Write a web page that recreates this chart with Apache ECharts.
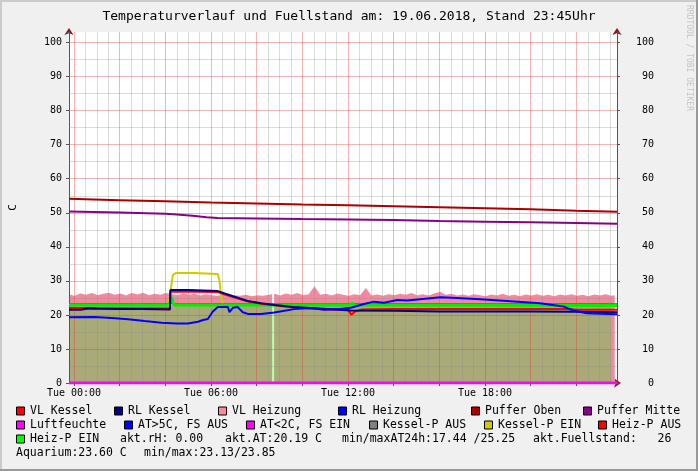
<!DOCTYPE html>
<html><head><meta charset="utf-8">
<script src="https://cdn.jsdelivr.net/npm/echarts@6/dist/echarts.min.js"></script>
<style>html,body{margin:0;padding:0;background:#f0f0f0}#c{width:698px;height:471px}</style>
</head><body><div id="c"></div>
<script>
const FONT = 'DejaVu Sans Mono';
const titleText = 'Temperaturverlauf und Fuellstand am: 19.06.2018, Stand 23:45Uhr';
const xMin = -0.22, xMax = 23.78;
const yMin = 0, yMax = 103.1;
const xTickHours = [0, 6, 12, 18];
const xTickLabels = ['Tue 00:00', 'Tue 06:00', 'Tue 12:00', 'Tue 18:00'];
const yTickValues = [0, 10, 20, 30, 40, 50, 60, 70, 80, 90, 100];

// VL Heizung (pink area), sampled every 0.25 h from -0.22 h
const pinkT0 = -0.22, pinkDT = 0.25;
const pinkVals = [26.0,25.6,26.3,25.9,26.4,25.8,26.2,26.5,25.9,26.3,25.7,26.4,26.0,26.5,25.8,26.2,
  25.9,26.4,26.1,25.8,26.3,25.9,26.2,25.7,26.1,25.8,25.6,25.9,25.5,25.8,25.6,25.9,25.5,25.8,25.6,25.9,
  26.2,25.7,26.3,25.9,26.4,25.8,26.1,28.4,25.9,26.2,25.7,26.3,25.9,25.6,26.1,25.8,27.9,25.7,26.0,25.6,
  26.1,25.8,26.2,25.9,26.4,25.8,26.1,25.7,26.3,26.8,25.9,26.2,25.7,26.0,25.6,26.1,25.8,25.5,26.0,25.7,
  26.2,25.6,25.9,25.5,26.0,25.7,26.1,25.6,25.9,25.5,26.0,25.7,26.1,25.6,25.9,25.5,26.0,25.7,26.1,25.6];
const pinkEnd = [23.68, 25.8];

// olive area
const oliveData = [[-0.22, 22.8], [23.51, 22.8]];
// Heiz-P EIN pale vertical mark and gap in pink
const paleGreenData = [[8.72, 0], [8.72, 22.9]];
const pinkGapData = [[8.72, 22.9], [8.72, 26.6]];
// thin grey-blue line
const thinLineData = [[-0.22, 23.35], [23.78, 23.3]];

const pufferOben = [[-0.22,54.1],[2,53.7],[4,53.35],[6,53.0],[8,52.75],[10,52.45],[12,52.2],[14,51.9],
  [16,51.6],[18,51.3],[20,51.0],[22,50.6],[23.78,50.3]];
const pufferMitte = [[-0.22,50.4],[2,50.1],[4,49.7],[4.5,49.5],[5.2,49.1],[5.8,48.7],[6.3,48.5],[8,48.35],
  [10,48.15],[12,48.0],[14,47.85],[16,47.6],[18,47.4],[20,47.2],[22,47.0],[23.78,46.8]];
const rlKessel = [[-0.22,21.5],[0.3,21.5],[0.6,21.9],[1.0,21.8],[2,21.7],[3,21.7],[4.2,21.6],[4.22,27.3],
  [5,27.3],[6,27.1],[6.3,27.0],[6.6,26.3],[7.0,25.4],[7.6,24.1],[8.2,23.4],[8.8,22.9],[9.6,22.3],
  [11.1,21.7],[12.1,21.3],[14,21.2],[16,21.0],[18,21.0],[20,21.0],[22,20.9],[23.78,20.8]];
const vlKessel = [[-0.22,22.0],[4.2,21.9],[4.22,26.9],[6.3,26.7],[6.6,26.0],[7.0,25.2],[7.6,24.0],[8.2,23.3],
  [8.8,22.8],[9.6,22.2],[11.1,21.6],[12.0,21.5],[12.15,20.0],[12.3,21.0],[12.6,21.6],[14,21.7],
  [18,21.7],[21.8,21.7],[22,21.5],[23.78,21.5]];
const rlHeizung = [[-0.22,19.3],[0.9,19.4],[1.65,19.1],[2.37,18.7],[3.09,18.2],[3.83,17.7],[4.5,17.5],
  [4.99,17.45],[5.43,18.0],[5.65,18.5],[5.86,18.8],[6.08,21.0],[6.30,22.3],[6.74,22.3],[6.81,20.8],
  [6.96,22.1],[7.17,22.3],[7.39,20.8],[7.61,20.3],[8.19,20.3],[8.77,20.7],[9.64,21.7],[10.37,22.0],
  [10.95,21.5],[11.54,21.7],[12.12,22.1],[12.70,23.2],[13.13,23.9],[13.57,23.6],[14.16,24.4],
  [14.59,24.2],[15.61,24.9],[16.05,25.2],[16.77,25.0],[17.79,24.6],[18.96,24.1],[20.41,23.4],
  [21.43,22.5],[21.86,21.3],[22.45,20.5],[23.78,20.2]];
const kesselPEin = [[4.15,23.4],[4.25,28.0],[4.33,31.8],[4.45,32.3],[5.3,32.3],[6.0,32.1],[6.3,32.0],
  [6.37,30.0],[6.45,25.0],[6.52,23.4]];
const heizPEin = [[-0.22,22.9],[4.15,22.9],[4.22,24.0],[4.27,25.2],[4.32,23.8],[4.4,22.9],[12.1,22.9],
  [12.18,23.5],[12.26,22.9],[23.78,22.8]];
const luftfeuchte = [[-0.22,0],[23.78,0]];

// legend layout
const legendRows = [
  {y: 411.5, items: [
    {name:'VL Kessel', color:'#ff0000', x:16},
    {name:'RL Kessel', color:'#000080', x:114},
    {name:'VL Heizung', color:'#ff8899', x:218},
    {name:'RL Heizung', color:'#0000ff', x:338},
    {name:'Puffer Oben', color:'#aa0000', x:471},
    {name:'Puffer Mitte', color:'#880088', x:583}]},
  {y: 425.5, items: [
    {name:'Luftfeuchte', color:'#ff00ff', x:16},
    {name:'AT>5C, FS AUS', color:'#0000ff', x:124},
    {name:'AT<2C, FS EIN', color:'#ff00ff', x:246},
    {name:'Kessel-P AUS', color:'#808080', x:369},
    {name:'Kessel-P EIN', color:'#cccc00', x:484},
    {name:'Heiz-P AUS', color:'#ff0000', x:598}]},
  {y: 439.5, items: [
    {name:'Heiz-P EIN', color:'#00ff00', x:16},
    {name:'akt.rH: 0.00', x:120},
    {name:'akt.AT:20.19 C', x:225},
    {name:'min/maxAT24h:17.44 /25.25', x:342},
    {name:'akt.Fuellstand:   26', x:533}]},
  {y: 453.5, items: [
    {name:'Aquarium:23.60 C', x:16},
    {name:'min/max:23.13/23.85', x:144}]}
];

const pinkData = pinkVals.map((v, i) => [pinkT0 + i * pinkDT, v]).concat([pinkEnd]);

const minorX = [], majorX = [], minorY = [], majorY = [];
for (let h = 0; h <= 23.5; h += 0.5) (h % 2 === 0 ? majorX : minorX).push(h);
for (let v = 5; v <= 100; v += 5) (v % 10 === 0 ? majorY : minorY).push(v);

const graphics = [
  {type:'rect', shape:{x:0,y:0,width:698,height:2}, style:{fill:'#cbcbcb'}, silent:true},
  {type:'rect', shape:{x:0,y:0,width:2,height:471}, style:{fill:'#cbcbcb'}, silent:true},
  {type:'rect', shape:{x:696,y:0,width:2,height:471}, style:{fill:'#999999'}, silent:true},
  {type:'rect', shape:{x:0,y:469,width:698,height:2}, style:{fill:'#999999'}, silent:true},
  {type:'text', x:689, y:5, rotation:-Math.PI/2, silent:true,
   style:{text:'RRDTOOL / TOBI OETIKER', font:'8px ' + FONT, fill:'#c4c4c4', textAlign:'left', textVerticalAlign:'middle', verticalAlign:'middle'}}
];
legendRows.forEach(row => {
  row.items.forEach(it => {
    let tx = it.x;
    if (it.color) {
      graphics.push({type:'rect', shape:{x:it.x + 0.5, y:row.y - 4.5, width:8, height:8},
        style:{fill:it.color, stroke:'#000', lineWidth:1}, silent:true});
      tx = it.x + 14;
    }
    graphics.push({type:'text', x:tx, y:row.y, silent:true,
      style:{text:it.name, font:'11.5px ' + FONT, fill:'#000', textAlign:'left', textVerticalAlign:'middle', verticalAlign:'middle'}});
  });
});

function lineSeries(name, data, color, width, z) {
  return {name, type:'line', data, z, showSymbol:false, symbol:'none', silent:true,
    lineStyle:{color, width}, xAxisIndex:1, yAxisIndex:2};
}
function areaSeries(name, data, color, z) {
  return {name, type:'line', data, z, showSymbol:false, symbol:'none', silent:true,
    lineStyle:{width:0, color}, areaStyle:{color, opacity:1}, xAxisIndex:1, yAxisIndex:2};
}
const gridLineSeries = (list, key, color) => ({
  type:'line', data:[], z:3, silent:true, xAxisIndex:1, yAxisIndex:2,
  markLine:{silent:true, symbol:'none', animation:false, label:{show:false},
    lineStyle:{color, width:1, type:'solid'}, emphasis:{disabled:true},
    data:list.map(v => ({[key]: v}))}
});

const axisArrowColor = '#8b1a1a';
const axisColor = '#555';
const chart = echarts.init(document.getElementById('c'), null, {renderer:'canvas'});
chart.setOption({
  animation:false,
  backgroundColor:'#f0f0f0',
  title:{text:titleText, left:'center', top:10, padding:0,
    textStyle:{fontFamily:FONT, fontSize:13, fontWeight:'normal', color:'#000'}},
  grid:{left:67, right:81, top:32, bottom:88, show:true, backgroundColor:'#ffffff', borderWidth:0},
  xAxis:[
    {type:'value', position:'bottom', min:xMin, max:xMax, z:0,
      axisLine:{show:true, onZero:false, symbol:['none','arrow'], symbolSize:[7,7], symbolOffset:[0,4], lineStyle:{color:axisArrowColor, width:1}},
      axisTick:{show:false}, axisLabel:{show:false}, splitLine:{show:false}},
    {type:'value', position:'bottom', min:xMin, max:xMax, z:1,
      axisLine:{show:true, onZero:false, lineStyle:{color:axisColor, width:1}},
      axisTick:{show:true, customValues:majorX, length:3, lineStyle:{color:axisColor}},
      axisLabel:{show:true, customValues:xTickHours, margin:5,
        formatter:(v) => xTickLabels[xTickHours.indexOf(v)] || '',
        fontFamily:FONT, fontSize:10, color:'#000'},
      splitLine:{show:false}}
  ],
  yAxis:[
    {type:'value', position:'left', min:yMin, max:yMax, z:0,
      axisLine:{show:true, onZero:false, symbol:['none','arrow'], symbolSize:[7,7], symbolOffset:[0,4], lineStyle:{color:axisArrowColor, width:1}},
      axisTick:{show:false}, axisLabel:{show:false}, splitLine:{show:false}},
    {type:'value', position:'right', min:yMin, max:yMax, z:0,
      axisLine:{show:true, onZero:false, symbol:['none','arrow'], symbolSize:[7,7], symbolOffset:[0,4], lineStyle:{color:axisArrowColor, width:1}},
      axisTick:{show:false}, axisLabel:{show:false}, splitLine:{show:false}},
    {type:'value', position:'left', min:yMin, max:yMax, interval:10, z:1,
      name:'C', nameLocation:'middle', nameGap:50, nameRotate:90,
      nameTextStyle:{fontFamily:FONT, fontSize:11, color:'#000'},
      axisLine:{show:true, onZero:false, lineStyle:{color:axisColor, width:1}},
      axisTick:{show:true, length:3, lineStyle:{color:axisColor}},
      axisLabel:{margin:7, fontFamily:FONT, fontSize:10, color:'#000',
        formatter:(v) => yTickValues.includes(v) ? String(v) : ''},
      splitLine:{show:false}},
    {type:'value', position:'right', min:yMin, max:yMax, interval:10, z:1,
      axisLine:{show:true, onZero:false, lineStyle:{color:axisColor, width:1}},
      axisTick:{show:true, length:3, lineStyle:{color:axisColor}},
      axisLabel:{margin:37, align:'right', fontFamily:FONT, fontSize:10, color:'#000',
        formatter:(v) => yTickValues.includes(v) ? String(v) : ''},
      splitLine:{show:false}}
  ],
  graphic:graphics,
  series:[
    areaSeries('VL Heizung', pinkData, '#f4889e', 1),
    areaSeries('Fläche', oliveData, '#aaa978', 1),
    lineSeries('Heiz-P EIN Marke', paleGreenData, '#b4ffb4', 2, 2),
    lineSeries('Lücke', pinkGapData, '#ffffff', 2, 2),
    gridLineSeries(minorX, 'xAxis', 'rgba(140,140,140,0.3)'),
    gridLineSeries(minorY, 'yAxis', 'rgba(140,140,140,0.3)'),
    gridLineSeries(majorX, 'xAxis', 'rgba(225,60,60,0.38)'),
    gridLineSeries(majorY, 'yAxis', 'rgba(225,60,60,0.38)'),
    lineSeries('Kessel-P AUS', thinLineData, '#5060a0', 1, 4),
    lineSeries('Puffer Oben', pufferOben, '#aa0000', 2, 5),
    lineSeries('Puffer Mitte', pufferMitte, '#880088', 2, 5),
    lineSeries('Kessel-P EIN', kesselPEin, '#cccc00', 2, 5),
    lineSeries('Heiz-P EIN', heizPEin, '#00ee00', 3, 6),
    lineSeries('VL Kessel', vlKessel, '#ff0000', 2, 7),
    lineSeries('RL Kessel', rlKessel, '#000080', 2, 8),
    lineSeries('RL Heizung', rlHeizung, '#0000ff', 2, 9),
    lineSeries('Luftfeuchte', luftfeuchte, '#ff00ff', 3, 9)
  ]
});
</script>
</body></html>
